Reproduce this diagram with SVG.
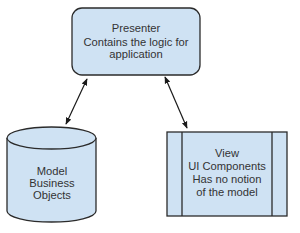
<svg xmlns="http://www.w3.org/2000/svg" width="300" height="233" viewBox="0 0 300 233">
<style>
.s{fill:#cfe2f3;stroke:#2b2b2b;stroke-width:1.3}
.t{font-family:"Liberation Sans",Arial,sans-serif;font-size:11.2px;fill:#333;text-anchor:middle}
.c{fill:none;stroke:#1a1a1a;stroke-width:1.2}
</style>
<defs>
<marker id="a" viewBox="0 0 10 10" refX="9" refY="5" markerWidth="7" markerHeight="7" orient="auto-start-reverse" markerUnits="userSpaceOnUse">
<path d="M0,1 L10,5 L0,9 z" fill="#1a1a1a"/>
</marker>
</defs>
<rect width="300" height="233" fill="#fff"/>
<g id="presenter">
<rect class="s" x="72" y="8" width="128" height="67" rx="10"/>
<text class="t" x="136" y="32">Presenter</text>
<text class="t" x="136" y="46">Contains the logic for</text>
<text class="t" x="136" y="58">application</text>
</g>
<g id="model">
<path class="s" d="M7,138 L7,211 A44.5,11 0 0 0 96,211 L96,138 A44.5,11 0 0 0 7,138 Z"/>
<path class="s" d="M7,138 A44.5,11 0 0 0 96,138" fill="none"/>
<text class="t" x="52" y="175">Model</text>
<text class="t" x="52" y="187">Business</text>
<text class="t" x="52" y="199">Objects</text>
</g>
<g id="view">
<rect class="s" x="167" y="132" width="120" height="84"/>
<line class="s" x1="182" y1="132" x2="182" y2="216"/>
<line class="s" x1="272" y1="132" x2="272" y2="216"/>
<text class="t" x="227" y="157">View</text>
<text class="t" x="227" y="170">UI Components</text>
<text class="t" x="227" y="183">Has no notion</text>
<text class="t" x="227" y="196">of the model</text>
</g>
<g id="connectors">
<line class="c" x1="87" y1="79" x2="66" y2="124" marker-start="url(#a)" marker-end="url(#a)"/>
<line class="c" x1="165" y1="77" x2="187" y2="128" marker-start="url(#a)" marker-end="url(#a)"/>
</g>
</svg>
